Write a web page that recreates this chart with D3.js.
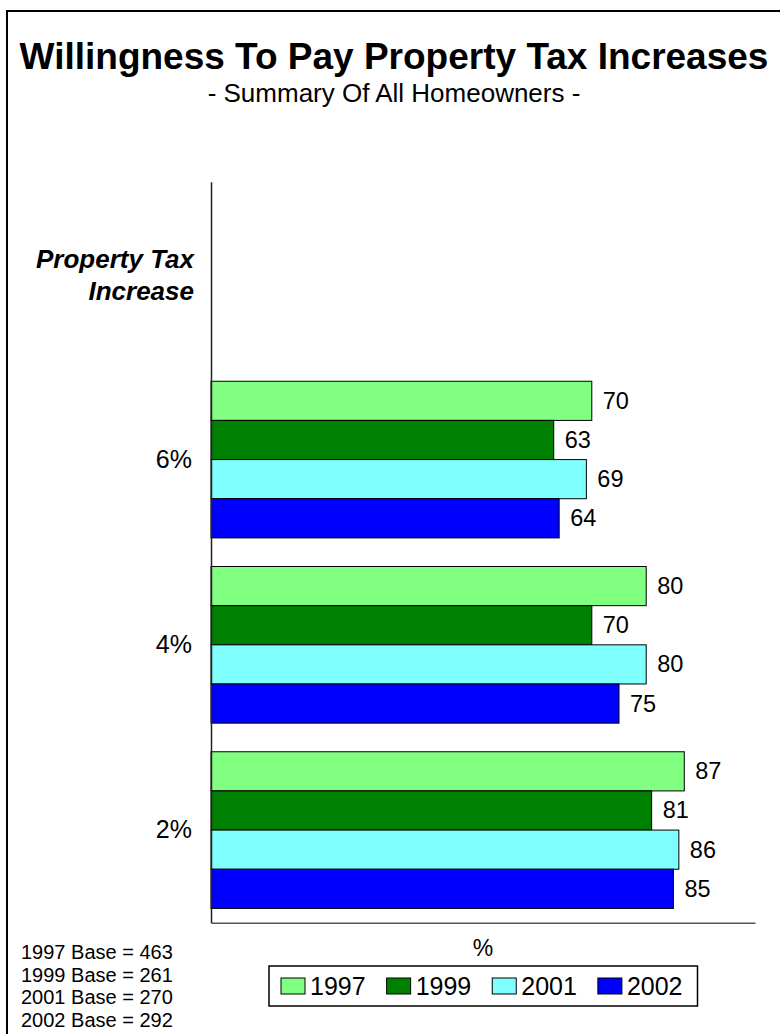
<!DOCTYPE html>
<html>
<head>
<meta charset="utf-8">
<script src="https://cdn.jsdelivr.net/npm/d3@7"></script>
<style>
  html, body { margin: 0; padding: 0; background: #fff; }
  svg { display: block; font-family: "Liberation Sans", Arial, sans-serif; }
</style>
</head>
<body>
<svg id="chart" width="780" height="1034"></svg>
<script>
// Survey results: share of homeowners willing to pay each property tax increase
const categories = ["6%", "4%", "2%"];
const years = ["1997", "1999", "2001", "2002"];
const values1997 = [70, 80, 87];
const values1999 = [63, 70, 81];
const values2001 = [69, 80, 86];
const values2002 = [64, 75, 85];
const baseNotes = ["1997 Base = 463", "1999 Base = 261", "2001 Base = 270", "2002 Base = 292"];
const colors = ["#80ff80", "#008000", "#80ffff", "#0000ff"];
const headerLines = ["Property Tax", "Increase"];

const series = [values1997, values1999, values2001, values2002];
const rows = categories.map((c, i) => ({
  category: c,
  values: years.map((y, j) => ({ year: y, value: series[j][i] }))
}));

const svg = d3.select("#chart");

// outer frame
svg.append("rect")
  .attr("x", 7).attr("y", 11)
  .attr("width", 800).attr("height", 1100)
  .attr("fill", "none").attr("stroke", "#000").attr("stroke-width", 2);

// titles
svg.append("text")
  .attr("x", 394).attr("y", 69)
  .attr("text-anchor", "middle")
  .attr("font-size", 37).attr("font-weight", "bold")
  .text("Willingness To Pay Property Tax Increases");
svg.append("text")
  .attr("x", 394).attr("y", 102)
  .attr("text-anchor", "middle")
  .attr("font-size", 26)
  .text("- Summary Of All Homeowners -");

// scales
const HEADER = "__header__";
const x = d3.scaleLinear().domain([0, 100]).range([211, 755]);
const y = d3.scaleBand().domain([HEADER, ...categories]).range([181.7, 922.7]).padding(0);
const bw = y.bandwidth();
const yInner = d3.scaleBand().domain(years).range([14.3, bw - 14.3]).padding(0);
const color = d3.scaleOrdinal().domain(years).range(colors);

// bars
const groups = svg.append("g").selectAll("g")
  .data(rows).join("g")
  .attr("transform", d => `translate(0,${y(d.category)})`);

groups.selectAll("rect")
  .data(d => d.values).join("rect")
  .attr("x", x(0))
  .attr("y", d => yInner(d.year))
  .attr("width", d => x(d.value) - x(0))
  .attr("height", yInner.bandwidth())
  .attr("fill", d => color(d.year))
  .attr("stroke", "#000").attr("stroke-width", 1);

groups.selectAll("text")
  .data(d => d.values).join("text")
  .attr("x", d => x(d.value) + 11)
  .attr("y", d => yInner(d.year) + yInner.bandwidth() / 2)
  .attr("dominant-baseline", "central")
  .attr("font-size", 23.5)
  .text(d => d.value);

// axes
const yAxis = svg.append("g")
  .attr("transform", `translate(${x(0)},0)`)
  .call(d3.axisLeft(y).tickSize(0).tickSizeOuter(0).tickPadding(19)
    .tickFormat(d => d === HEADER ? "" : d));
yAxis.select(".domain").attr("stroke", "#222").attr("stroke-width", 1.5);
yAxis.selectAll(".tick text")
  .attr("font-size", 25).attr("fill", "#000")
  .attr("font-family", "Liberation Sans, Arial, sans-serif");

const xAxis = svg.append("g")
  .attr("transform", `translate(0,${y.range()[1]})`)
  .call(d3.axisBottom(x).tickValues([]).tickSizeOuter(0));
xAxis.select(".domain").attr("stroke", "#555").attr("stroke-width", 1.5);

// category axis header
const hc = y(HEADER) + bw / 2;
svg.append("text")
  .attr("text-anchor", "end")
  .attr("font-size", 26).attr("font-weight", "bold").attr("font-style", "italic")
  .selectAll("tspan").data(headerLines).join("tspan")
  .attr("x", 194)
  .attr("y", (d, i) => hc - 6 + i * 32)
  .text(d => d);

// value axis title
svg.append("text")
  .attr("x", (x.range()[0] + x.range()[1]) / 2).attr("y", 956)
  .attr("text-anchor", "middle").attr("font-size", 23)
  .text("%");

// sample size notes
svg.append("g").selectAll("text")
  .data(baseNotes).join("text")
  .attr("x", 21)
  .attr("y", (d, i) => 959 + i * 22.5)
  .attr("font-size", 20)
  .text(d => d);

// legend
const legend = svg.append("g");
const legendBox = legend.append("rect")
  .attr("y", 966).attr("height", 40)
  .attr("fill", "#fff").attr("stroke", "#000").attr("stroke-width", 1.5);
let lx = 281;
const sw = 24, sh = 16, cy = 986;
years.forEach(yr => {
  legend.append("rect")
    .attr("x", lx).attr("y", cy - sh / 2)
    .attr("width", sw).attr("height", sh)
    .attr("fill", color(yr)).attr("stroke", "#000").attr("stroke-width", 1);
  const t = legend.append("text")
    .attr("x", lx + sw + 5).attr("y", cy)
    .attr("dominant-baseline", "central")
    .attr("font-size", 25)
    .text(yr);
  lx += sw + 5 + t.node().getComputedTextLength() + 21;
});
legendBox.attr("x", 269).attr("width", (lx - 21 + 15) - 269);
</script>
</body>
</html>
